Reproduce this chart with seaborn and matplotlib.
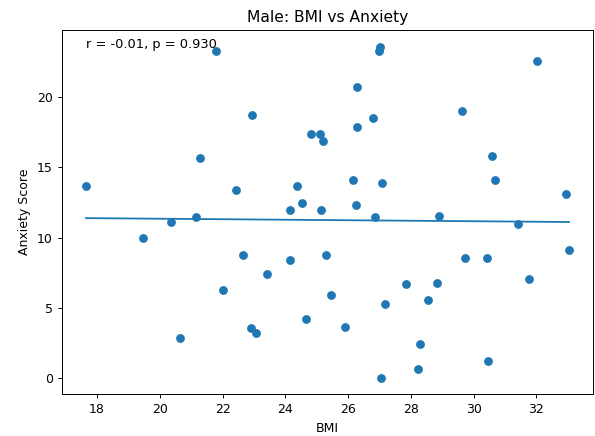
import matplotlib
matplotlib.use("Agg")
import matplotlib.pyplot as plt
import seaborn as sns
import numpy as np
import pandas as pd

# values
bmi = [17.65, 19.46, 20.35, 20.65, 21.14, 21.27, 21.80, 22.00, 22.44, 22.66,
       22.95, 22.92, 23.05, 23.42, 24.14, 24.16, 24.38, 24.54, 24.65, 24.83,
       25.11, 25.14, 25.20, 25.28, 25.44, 25.90, 26.16, 26.25, 26.29, 26.29,
       26.79, 26.86, 26.98, 27.02, 27.05, 27.08, 27.18, 27.85, 28.24, 28.30,
       28.55, 28.84, 28.89, 29.62, 29.73, 30.43, 30.47, 30.57, 30.67, 31.40,
       31.76, 32.03, 32.95, 33.04]
anxiety = [13.7, 9.95, 11.15, 2.9, 11.5, 15.65, 23.3, 6.3, 13.4, 8.8,
           18.7, 3.6, 3.2, 7.4, 8.45, 11.95, 13.7, 12.5, 4.25, 17.4,
           17.4, 11.95, 16.9, 8.8, 5.9, 3.65, 14.1, 12.3, 17.9, 20.7,
           18.5, 11.45, 23.3, 23.6, 0.05, 13.9, 5.3, 6.7, 0.65, 2.45,
           5.55, 6.8, 11.55, 19.0, 8.55, 8.55, 1.25, 15.85, 14.1, 10.95,
           7.05, 22.6, 13.1, 9.1]
stats_text = "r = -0.01, p = 0.930"

df = pd.DataFrame({"BMI": bmi, "Anxiety Score": anxiety})

FS = 9
fig, ax = plt.subplots(figsize=(5.95, 4.36), dpi=100)
fig.subplots_adjust(left=0.104, right=0.997, top=0.931, bottom=0.096)

sns.regplot(data=df, x="BMI", y="Anxiety Score", ci=None, ax=ax,
            color="#1f77b4",
            scatter_kws={"s": 40, "linewidths": 0, "alpha": 1},
            line_kws={"linewidth": 1.3})

ax.text(0.046, 0.95, stats_text, transform=ax.transAxes, fontsize=9.4)
ax.set_title("Male: BMI vs Anxiety", fontsize=11.2)
ax.set_xlabel("BMI", fontsize=FS)
ax.set_ylabel("Anxiety Score", fontsize=FS)
ax.tick_params(labelsize=FS, length=3, width=0.7)
for s in ax.spines.values():
    s.set_linewidth(0.7)
ax.margins(0.05)

plt.savefig("out.png", dpi=100)
plt.close()
